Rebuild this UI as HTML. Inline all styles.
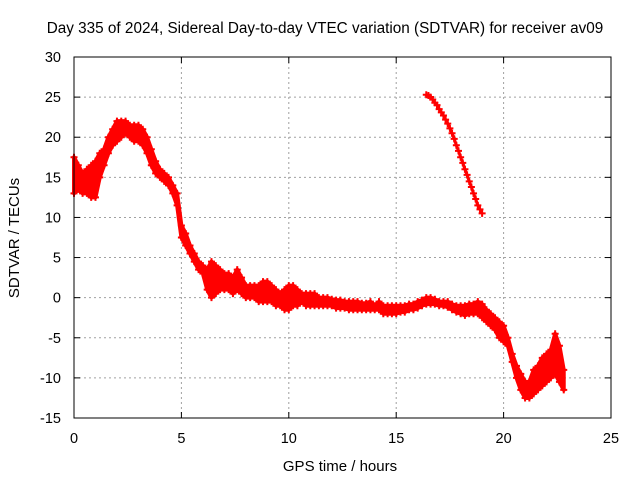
<!DOCTYPE html>
<html><head><meta charset="utf-8"><style>
body{margin:0;background:#fff;}
svg{display:block;font-family:"Liberation Sans",sans-serif;}
</style></head><body>
<svg id="chart" width="640" height="480">
<text x="325" y="33" font-size="15.3" text-anchor="middle">Day 335 of 2024, Sidereal Day-to-day VTEC variation (SDTVAR) for receiver av09</text>
<text x="340" y="471" font-size="15" text-anchor="middle">GPS time / hours</text>
<text transform="translate(19,238) rotate(-90)" font-size="15" text-anchor="middle">SDTVAR / TECUs</text>
<g id="grid"></g><g id="ticks"></g><g id="marks"></g>
<rect x="74" y="57" width="537" height="361" fill="none" stroke="#000" stroke-width="1"/>
</svg>
<script>
const xTicks=[0,5,10,15,20,25];
const yTicks=[-15,-10,-5,0,5,10,15,20,25,30];
const mainStart=0, mainStep=0.2;
const mainLo=[13,13.5,13,13,12.5,12.5,15,16.5,18,19,19.5,20,20.5,20,19.5,19.5,19,18,16.5,15.5,15,14.5,14,13,11.5,7.5,6.5,5.5,4.5,3.5,3,1,0,0.5,1,1,1,0.5,1,0.5,0,0,0,-0.5,-0.5,-0.5,-0.5,-1,-1,-1.5,-1.5,-1,-1,-0.5,-1,-1,-1,-1,-1,-1,-1,-1.3,-1.3,-1.3,-1.5,-1.5,-1.5,-1.5,-1.5,-1.5,-1.5,-1.5,-2,-2,-2,-2,-1.8,-1.8,-1.5,-1.5,-1.3,-1,-0.8,-0.8,-0.8,-1,-1,-1.2,-1.5,-1.8,-2,-2.2,-2,-2,-2,-2.5,-3,-3.5,-4,-5,-5.5,-6,-8,-10,-11.5,-12.5,-12.5,-12,-11.5,-11,-10.5,-10,-9.5,-10.5,-11.5];
const mainHi=[17.5,16.5,15.5,16,16.5,17,18,18.5,20,21,22,22,22,21.5,21.5,21.5,21,20,18.5,17,16,15.5,15,14,13,9,8,6.5,5.5,4.5,4,3.5,4.5,4,3.5,3,3,2.5,3.5,2.5,1.5,1.5,1.5,1.5,2,2,1.5,1,0.5,1,1.5,1.5,1,0.5,0.5,0.5,0.5,0,0,0,-0.2,-0.3,-0.3,-0.5,-0.5,-0.5,-0.5,-0.7,-0.7,-0.5,-1,-0.5,-1,-1,-1,-1,-1,-1,-0.8,-0.8,-0.5,-0.3,0,0,-0.2,-0.5,-0.5,-0.5,-0.8,-1,-1,-1,-0.8,-0.8,-0.5,-0.8,-1.5,-2,-2.5,-3,-3.5,-5,-7,-8.5,-9.5,-10.5,-10.5,-9,-8.5,-7.5,-7,-6.5,-4.5,-6,-9];
const segStart=16.4, segStep=0.1;
const segVals=[25.3,25.2,25,24.7,24.3,24,23.5,23.1,22.7,22.2,21.7,21.1,20.5,19.8,19,18.3,17.5,16.8,16,15.3,14.5,13.8,13,12.3,11.5,11,10.5];
const X0=74,X1=611,Y0=418,Y1=57;
const xs=v=>X0+(v-0)/(25-0)*(X1-X0);
const ys=v=>Y0-(v+15)/(30+15)*(Y0-Y1);
const NS='http://www.w3.org/2000/svg';
const G=document.getElementById('grid'),T=document.getElementById('ticks'),M=document.getElementById('marks');
function mk(tag,at,p){const e=document.createElementNS(NS,tag);for(const k in at)e.setAttribute(k,at[k]);p.appendChild(e);return e;}
xTicks.forEach(v=>{const x=xs(v);
 if(v>0&&v<25){const l=mk('line',{x1:x,x2:x,y1:Y1,y2:Y0,stroke:'#a0a0a0','stroke-dasharray':'2,3'},G);
 
 }
 mk('line',{x1:x,x2:x,y1:Y0,y2:Y0-6,stroke:'#000'},T);mk('line',{x1:x,x2:x,y1:Y1,y2:Y1+6,stroke:'#000'},T);
 const t=mk('text',{x:x,y:443,'font-size':14.5,'text-anchor':'middle'},T);t.textContent=v;
 
 });
yTicks.forEach(v=>{const y=ys(v);
 if(v>-15&&v<30){const l=mk('line',{x1:X0,x2:X1,y1:y,y2:y,stroke:'#a0a0a0','stroke-dasharray':'2,3'},G);
 
 }
 mk('line',{x1:X0,x2:X0+6,y1:y,y2:y,stroke:'#000'},T);mk('line',{x1:X1,x2:X1-6,y1:y,y2:y,stroke:'#000'},T);
 const t=mk('text',{x:61,y:y+5,'font-size':14.5,'text-anchor':'end'},T);t.textContent=v;
 
 });
function plus(x,y){const g=mk('path',{d:`M${x-3.5},${y}h7M${x},${y-3.5}v7`,stroke:'#f00','stroke-width':2,fill:'none'},M);
 
 }
let pts=mainHi.map((h,i)=>xs(mainStart+i*mainStep)+','+ys(h));
for(let i=mainLo.length-1;i>=0;i--)pts.push(xs(mainStart+i*mainStep)+','+ys(mainLo[i]));
const band=mk('polygon',{points:pts.join(' '),fill:'#f00',stroke:'#f00','stroke-width':4,'stroke-linejoin':'round'},M);


mainLo.forEach((lo,i)=>{const x=xs(mainStart+i*mainStep);plus(x,ys(lo));plus(x,ys(mainHi[i]));});
const segPts=segVals.map((v,i)=>xs(segStart+i*segStep)+','+ys(v)).join(' ');
const sl=mk('polyline',{points:segPts,fill:'none',stroke:'#f00','stroke-width':3},M);


segVals.forEach((v,i)=>plus(xs(segStart+i*segStep),ys(v)));
</script>
</body></html>
